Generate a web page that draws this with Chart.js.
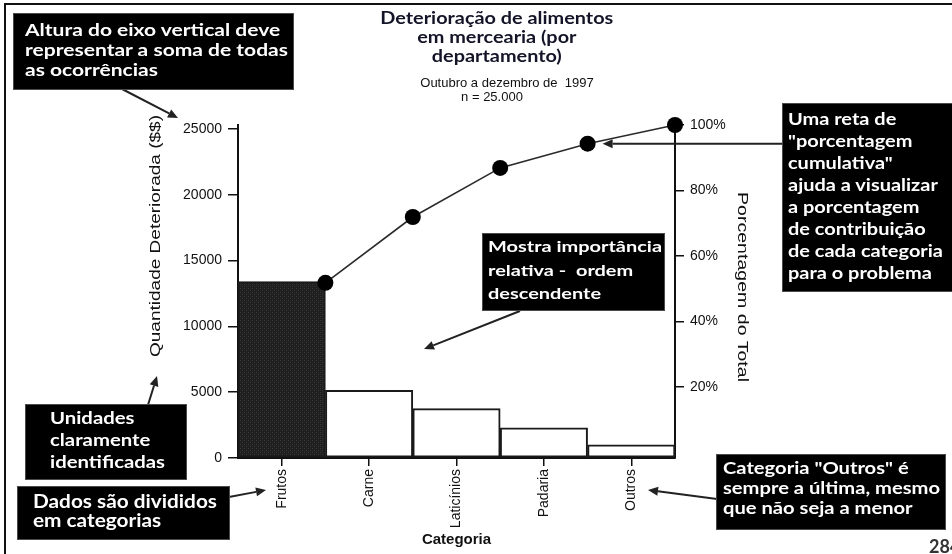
<!DOCTYPE html>
<html lang="pt">
<head>
<meta charset="utf-8">
<title>Deterioração de alimentos em mercearia</title>
<script src="https://cdn.jsdelivr.net/npm/chart.js@4.4.1/dist/chart.umd.min.js"></script>
<style>
html,body{margin:0;padding:0;background:#fff;overflow:hidden;}
#wrap{position:relative;width:952px;height:554px;overflow:hidden;background:#fff;}
#chart{position:absolute;left:0;top:0;}
.frame{position:absolute;left:4px;top:3px;width:1000px;height:600px;border-left:2px solid #111;border-top:2px solid #111;pointer-events:none;}
.box{position:absolute;background:#000;border:1px solid #4a4a4a;box-sizing:border-box;overflow:hidden;}
.txt{position:absolute;white-space:pre;color:#fff;font-family:Lato,'Open Sans',sans-serif;font-weight:700;font-size:17px;transform-origin:0 0;}
.title{position:absolute;left:0;white-space:pre;text-align:center;color:#141428;font-family:Lato,sans-serif;font-weight:700;font-size:16.5px;line-height:19px;transform-origin:50% 0;}
.sub{position:absolute;left:0;white-space:pre;text-align:center;color:#111;font-family:'Liberation Sans',Arial,sans-serif;font-size:13px;line-height:14px;}
.axt{position:absolute;left:0;top:0;white-space:pre;color:#111;font-family:'Liberation Sans',Arial,sans-serif;font-size:15px;line-height:18px;transform-origin:50% 50%;}
.page{position:absolute;left:929px;top:537px;white-space:pre;color:#333;font-family:Lato,sans-serif;font-weight:700;font-size:18px;line-height:18px;}
</style>
</head>
<body>
<div id="wrap">
<canvas id="chart" width="952" height="554"></canvas>
<div class="frame"></div>

<div class="title fit-center" data-w="233" data-cx="497" style="top:9px;">Deterioração de alimentos
em mercearia (por
departamento)</div>
<div class="sub fit-center" data-cx="507" style="top:76px;">Outubro a dezembro de  1997</div>
<div class="sub fit-center" data-cx="492" style="top:90px;">n = 25.000</div>

<div class="axt" data-w="242" data-cx="155" data-cy="236" data-rot="-90">Quantidade Deteriorada ($$)</div>
<div class="axt" data-w="190" data-cx="743" data-cy="287" data-rot="90">Porcentagem do Total</div>

<div class="box" style="left:13px;top:13px;width:281px;height:77px;">
<div class="txt fit" data-w="263" style="left:11px;top:6px;line-height:20px;">Altura do eixo vertical deve
representar a soma de todas
as ocorrências</div></div>

<div class="box" style="left:782px;top:103px;width:172px;height:189px;">
<div class="txt fit" data-w="155" style="left:5px;top:4px;line-height:22px;">Uma reta de
"porcentagem
cumulativa"
ajuda a visualizar
a porcentagem
de contribuição
de cada categoria
para o problema</div></div>

<div class="box" style="left:482px;top:233px;width:183px;height:78px;">
<div class="txt fit" data-w="174" style="left:5px;top:0px;line-height:23.5px;font-size:16px;">Mostra importância
relativa -  ordem
descendente</div></div>

<div class="box" style="left:25px;top:404px;width:162px;height:76px;">
<div class="txt fit" data-w="115" style="left:24px;top:2px;line-height:22px;">Unidades
claramente
identificadas</div></div>

<div class="box" style="left:17px;top:486px;width:213px;height:54px;">
<div class="txt fit" data-w="184" style="left:15px;top:5px;line-height:19px;font-size:18px;">Dados são divididos
em categorias</div></div>

<div class="box" style="left:716px;top:454px;width:230px;height:76px;">
<div class="txt fit" data-w="217" style="left:6px;top:3px;line-height:20px;">Categoria "Outros" é
sempre a última, mesmo
que não seja a menor</div></div>

<div class="page">284</div>
</div>

<script>
// ---- data ----
const categories = ['Frutos', 'Carne', 'Laticínios', 'Padaria', 'Outros'];
const deterioratedAmount = [13400, 5150, 3750, 2300, 1000];
const cumulativePercent = [51.8, 71.9, 86.9, 94.3, 100];
const leftAxisTicks = [0, 5000, 10000, 15000, 20000, 25000];
const rightAxisTicks = [20, 40, 60, 80, 100];

// ---- text fitting (layout only) ----
document.querySelectorAll('.fit').forEach(el => {
  const w = el.getBoundingClientRect().width;
  const t = parseFloat(el.dataset.w);
  el.style.transform = 'scaleX(' + (t / w) + ')';
});
document.querySelectorAll('.fit-center').forEach(el => {
  const w = el.getBoundingClientRect().width;
  const cx = parseFloat(el.dataset.cx);
  el.style.left = (cx - w / 2) + 'px';
  if (el.dataset.w) el.style.transform = 'scaleX(' + (parseFloat(el.dataset.w) / w) + ')';
});
document.querySelectorAll('.axt').forEach(el => {
  const r = el.getBoundingClientRect();
  const s = parseFloat(el.dataset.w) / r.width;
  const tx = parseFloat(el.dataset.cx) - r.width / 2;
  const ty = parseFloat(el.dataset.cy) - r.height / 2;
  el.style.transform = 'translate(' + tx + 'px,' + ty + 'px) rotate(' + el.dataset.rot + 'deg) scaleX(' + s + ')';
});

// ---- chart ----
const canvas = document.getElementById('chart');
const ctx = canvas.getContext('2d');
const pc = document.createElement('canvas');
pc.width = 4; pc.height = 4;
const pg = pc.getContext('2d');
pg.fillStyle = '#1e1e1e'; pg.fillRect(0, 0, 4, 4);
pg.fillStyle = '#3a3a3a'; pg.fillRect(0, 0, 1, 1); pg.fillRect(2, 2, 1, 1);
pg.fillStyle = '#2b2b2b'; pg.fillRect(2, 0, 1, 1); pg.fillRect(0, 2, 1, 1);
const darkPattern = ctx.createPattern(pc, 'repeat');

const AXIS_FONT = { family: "'Liberation Sans', Arial, sans-serif", size: 14 };

function arrow(c, x1, y1, x2, y2) {
  const a = Math.atan2(y2 - y1, x2 - x1);
  const L = 10, W = 4.5;
  const bx = x2 - L * Math.cos(a), by = y2 - L * Math.sin(a);
  c.beginPath(); c.moveTo(x1, y1); c.lineTo(bx, by); c.stroke();
  c.beginPath();
  c.moveTo(x2, y2);
  c.lineTo(bx + W * Math.sin(a), by - W * Math.cos(a));
  c.lineTo(bx - W * Math.sin(a), by + W * Math.cos(a));
  c.closePath(); c.fill();
}

const arrowPlugin = {
  id: 'arrows',
  afterDraw(chart) {
    const c = chart.ctx;
    c.save();
    c.strokeStyle = '#222'; c.fillStyle = '#222'; c.lineWidth = 2;
    const pts = chart.getDatasetMeta(0).data;
    const p4 = pts[3];
    arrow(c, 122, 89, 178, 118);
    arrow(c, 783, p4.y, p4.x + 15, p4.y);
    arrow(c, 520, 311, 424, 349);
    arrow(c, 148, 405, 157, 376);
    arrow(c, 229, 497, 266, 490);
    arrow(c, 717, 499, 648, 490);
    c.restore();
  }
};

new Chart(ctx, {
  type: 'bar',
  data: {
    labels: categories,
    datasets: [
      {
        type: 'line', label: 'Porcentagem cumulativa',
        data: cumulativePercent.map((v, i) => ({ x: i + 1, y: v })),
        xAxisID: 'xl', yAxisID: 'yr',
        borderColor: '#2a2a2a', borderWidth: 1.6,
        pointRadius: 8, pointHoverRadius: 8,
        pointBackgroundColor: '#000', pointBorderColor: '#000', pointBorderWidth: 0,
        tension: 0, clip: false, order: 0
      },
      {
        type: 'bar', label: 'Quantidade Deteriorada',
        data: deterioratedAmount,
        xAxisID: 'x', yAxisID: 'y',
        backgroundColor: categories.map((c, i) => i === 0 ? darkPattern : '#ffffff'),
        borderColor: '#1a1a1a', borderWidth: 2, borderSkipped: false,
        barPercentage: 1, categoryPercentage: 1, grouped: false, order: 1
      }
    ]
  },
  options: {
    responsive: false,
    animation: false,
    events: [],
    layout: { padding: { left: 0, right: 217, top: 125, bottom: 0 } },
    plugins: { legend: { display: false }, tooltip: { enabled: false } },
    scales: {
      x: {
        type: 'category', offset: true,
        grid: { display: true, drawOnChartArea: false, drawTicks: true, tickLength: 8, color: '#111', lineWidth: 1.5, offset: false },
        border: { display: true, color: '#111', width: 2 },
        ticks: { color: '#111', font: AXIS_FONT, minRotation: 90, maxRotation: 90, padding: 3, autoSkip: false },
        title: { display: true, text: 'Categoria', color: '#111', font: { family: "'Liberation Sans', Arial, sans-serif", size: 15, weight: 'bold' }, padding: { top: 0, bottom: 5 } },
        afterFit(s) { s.height = 96; }
      },
      xl: { type: 'linear', display: false, offset: false, grace: 0, min: 0, max: 5, grid: { offset: false } },
      y: {
        type: 'linear', position: 'left', min: 0, max: 25304,
        afterBuildTicks(s) { s.ticks = leftAxisTicks.map(v => ({ value: v })); },
        grid: { drawOnChartArea: false, tickLength: 10, color: '#111', lineWidth: 1.5 },
        border: { display: true, color: '#111', width: 2 },
        ticks: { color: '#111', font: AXIS_FONT, padding: 6, callback: v => String(v) },
        afterFit(s) { s.width = 238; }
      },
      yr: {
        type: 'linear', position: 'right', min: -1.7, max: 100,
        afterBuildTicks(s) { s.ticks = rightAxisTicks.map(v => ({ value: v })); },
        grid: { drawOnChartArea: false, tickLength: 9, color: '#111', lineWidth: 1.5 },
        border: { display: true, color: '#111', width: 2 },
        ticks: { color: '#111', font: AXIS_FONT, padding: 6, callback: v => v + '%' },
        afterFit(s) { s.width = 60; }
      }
    }
  },
  plugins: [arrowPlugin]
});
</script>
</body>
</html>
